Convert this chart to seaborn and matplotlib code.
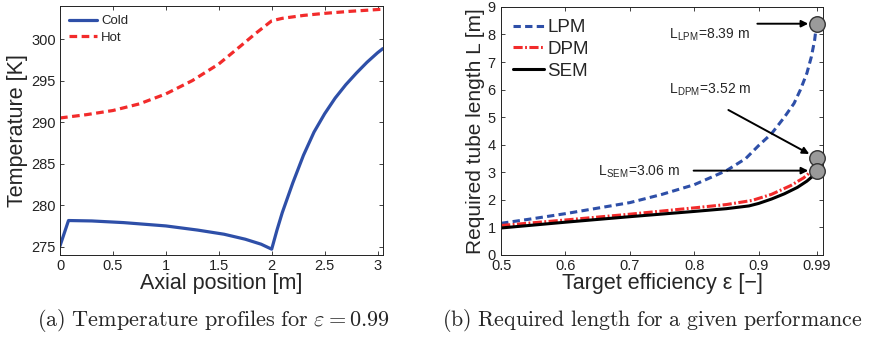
import numpy as np
import pandas as pd
import matplotlib
matplotlib.use("Agg")
import matplotlib.pyplot as plt
import seaborn as sns

# --- data (a): temperature profiles ---
cold_x = [0, 0.08, 0.3, 0.6, 1.0, 1.3, 1.55, 1.75, 1.9, 2.0, 2.05, 2.1, 2.2, 2.3,
          2.4, 2.5, 2.6, 2.7, 2.8, 2.9, 3.0, 3.05]
cold_t = [275.1, 278.15, 278.1, 277.9, 277.5, 277.0, 276.5, 275.9, 275.3, 274.7,
          277.0, 279.1, 282.7, 286.0, 288.8, 291.0, 292.9, 294.5, 295.9, 297.2,
          298.35, 298.85]
hot_x = [0, 0.25, 0.5, 0.75, 1.0, 1.25, 1.5, 1.7, 1.85, 2.0, 2.1, 2.3, 2.5, 2.75, 3.05]
hot_t = [290.5, 290.9, 291.4, 292.2, 293.4, 295.0, 297.0, 299.1, 300.7, 302.2,
         302.5, 302.85, 303.1, 303.35, 303.6]

# --- data (b): required length ---
lpm_eps = [0.5, 0.55, 0.6, 0.65, 0.7, 0.75, 0.8, 0.85, 0.88, 0.9, 0.92, 0.94,
           0.955, 0.965, 0.975, 0.982, 0.987, 0.99]
lpm_len = [1.15, 1.32, 1.5, 1.7, 1.9, 2.2, 2.55, 3.06, 3.5, 3.97, 4.4, 5.0,
           5.5, 6.0, 6.6, 7.2, 7.8, 8.39]
dpm_eps = [0.5, 0.6, 0.7, 0.8, 0.85, 0.89, 0.92, 0.95, 0.97, 0.98, 0.985, 0.99]
dpm_len = [1.07, 1.27, 1.48, 1.71, 1.83, 1.98, 2.2, 2.52, 2.8, 3.0, 3.15, 3.52]
sem_eps = [0.5, 0.6, 0.7, 0.8, 0.85, 0.885, 0.9, 0.92, 0.94, 0.96, 0.975, 0.985, 0.99]
sem_len = [0.98, 1.19, 1.39, 1.58, 1.68, 1.78, 1.87, 2.03, 2.22, 2.45, 2.68, 2.88, 3.06]

final_eps = [0.99, 0.99, 0.99]
final_len = [8.39, 3.52, 3.06]

BLUE = "#2E4FA8"
RED = "#F22B2B"

sns.set_style("ticks")
plt.rcParams["font.family"] = ["Liberation Sans", "DejaVu Sans"]
plt.rcParams["mathtext.fontset"] = "cm"

fig = plt.figure(figsize=(8.7, 3.38), dpi=100)
ax1 = fig.add_axes([0.069, 0.2456, 0.371, 0.737])
ax2 = fig.add_axes([0.576, 0.2456, 0.370, 0.734])

# (a)
df_cold = pd.DataFrame({"x": cold_x, "T": cold_t})
df_hot = pd.DataFrame({"x": hot_x, "T": hot_t})
sns.lineplot(data=df_cold, x="x", y="T", ax=ax1, color=BLUE, lw=2.3,
             sort=False, estimator=None, label="Cold")
sns.lineplot(data=df_hot, x="x", y="T", ax=ax1, color=RED, lw=2.3,
             sort=False, estimator=None, label="Hot")
ax1.lines[1].set_linestyle((0, (2.4, 1.4)))
ax1.set_xlim(0, 3.05)
ax1.set_ylim(274, 304)
ax1.set_xticks([0, 0.5, 1, 1.5, 2, 2.5, 3])
ax1.set_xticklabels(["0", "0.5", "1", "1.5", "2", "2.5", "3"])
ax1.set_yticks([275, 280, 285, 290, 295, 300])
ax1.set_xlabel("Axial position [m]", fontsize=15.5, labelpad=0)
ax1.set_ylabel("Temperature [K]", fontsize=15.5, labelpad=2)
ax1.legend(loc="upper left", frameon=False, fontsize=9.5, handlelength=2.1,
           handletextpad=0.3, labelspacing=0.3, borderaxespad=0.3)

# (b)
df_lpm = pd.DataFrame({"eps": lpm_eps, "L": lpm_len})
df_dpm = pd.DataFrame({"eps": dpm_eps, "L": dpm_len})
df_sem = pd.DataFrame({"eps": sem_eps, "L": sem_len})
sns.lineplot(data=df_lpm, x="eps", y="L", ax=ax2, color=BLUE, lw=2.2,
             sort=False, estimator=None, label="LPM")
sns.lineplot(data=df_dpm, x="eps", y="L", ax=ax2, color=RED, lw=2.2,
             sort=False, estimator=None, label="DPM")
sns.lineplot(data=df_sem, x="eps", y="L", ax=ax2, color="black", lw=2.2,
             sort=False, estimator=None, label="SEM")
ax2.lines[0].set_linestyle((0, (2.4, 1.4)))
ax2.lines[1].set_linestyle((0, (3.0, 0.8, 0.6, 0.8)))

df_fin = pd.DataFrame({"eps": final_eps, "L": final_len})
sns.scatterplot(data=df_fin, x="eps", y="L", ax=ax2, s=125, color="#9A9A9A",
                edgecolor="#333333", linewidth=1.0, zorder=5, clip_on=False,
                legend=False)

arrow = dict(arrowstyle="-|>", color="black", lw=1.4, mutation_scale=10,
             shrinkA=0, shrinkB=6)
ax2.annotate("", xy=(final_eps[0], final_len[0]), xytext=(0.898, final_len[0]),
             arrowprops=arrow)
ax2.annotate("", xy=(final_eps[1], final_len[1]), xytext=(0.853, 5.26),
             arrowprops=arrow)
ax2.annotate("", xy=(final_eps[2], final_len[2]), xytext=(0.799, final_len[2]),
             arrowprops=arrow)
ax2.text(0.761, 8.0, r"L$_{\mathregular{LPM}}$=8.39 m", fontsize=10, va="center")
ax2.text(0.761, 6.0, r"L$_{\mathregular{DPM}}$=3.52 m", fontsize=10, va="center")
ax2.text(0.65, 3.03, r"L$_{\mathregular{SEM}}$=3.06 m", fontsize=10, va="center")

ax2.set_xlim(0.5, 1.0)
ax2.set_ylim(0, 9)
ax2.set_xticks([0.5, 0.6, 0.7, 0.8, 0.9, 0.99])
ax2.set_xticklabels(["0.5", "0.6", "0.7", "0.8", "0.9", "0.99"])
ax2.set_yticks(range(0, 10))
ax2.set_xlabel("Target efficiency ε [−]", fontsize=15.5, labelpad=0)
ax2.set_ylabel("Required tube length L [m]", fontsize=15, labelpad=2)
ax2.legend(loc="upper left", frameon=False, fontsize=13.5, handlelength=1.65,
           handletextpad=0.15, labelspacing=0.25, borderaxespad=0.25)

for ax in (ax1, ax2):
    ax.tick_params(direction="in", length=3, width=0.6, labelsize=10.5,
                   top=True, right=True, pad=3, colors="#222222")
    for sp in ax.spines.values():
        sp.set_linewidth(0.7)
        sp.set_color("#222222")
ax2.tick_params(axis="y", pad=4)

fig.text(0.245, 0.053,
         r"$\mathrm{(a)\ Temperature\ profiles\ for\ }\varepsilon = 0.99$",
         ha="center", va="center", fontsize=16)
fig.text(0.750, 0.053,
         r"$\mathrm{(b)\ Required\ length\ for\ a\ given\ performance}$",
         ha="center", va="center", fontsize=15.8)

fig.savefig("out.png", dpi=100)
